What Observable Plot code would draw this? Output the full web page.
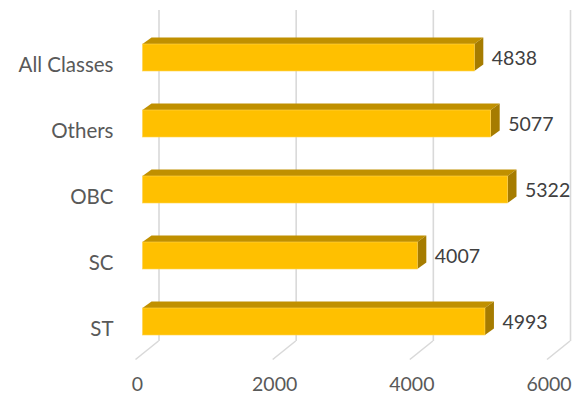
<!DOCTYPE html>
<html>
<head>
<meta charset="utf-8">
<script src="https://cdn.jsdelivr.net/npm/d3@7"></script>
<script src="https://cdn.jsdelivr.net/npm/@observablehq/plot@0.6"></script>
<style>
  html, body { margin: 0; padding: 0; background: #fff; }
  #chart svg { display: block; }
</style>
</head>
<body>
<div id="chart"></div>
<script>
const categories = ["All Classes", "Others", "OBC", "SC", "ST"];
const values = [4838, 5077, 5322, 4007, 4993];
const xTicks = [0, 2000, 4000, 6000];

const data = categories.map((c, i) => ({category: c, value: values[i]}));

// 3D depth offsets (pixels)
const FRONT_DX = -16;          // front plane relative to back wall
const BAR_DEPTH_X = 9, BAR_DEPTH_Y = -6.5;
const FLOOR_DX = -23, FLOOR_DY = 18.5;

const FONT = "Lato, 'Open Sans', sans-serif";

function floorLines(index, scales, values, dims) {
  const g = d3.create("svg:g");
  const yb = dims.height - dims.marginBottom;
  for (const t of xTicks) {
    const x = scales.x(t);
    g.append("line")
      .attr("x1", x).attr("y1", yb)
      .attr("x2", x + FLOOR_DX).attr("y2", yb + FLOOR_DY)
      .attr("stroke", "#d9d9d9").attr("stroke-width", 1.6);
  }
  return g.node();
}

function barFaces(index, scales, values, dims) {
  const g = d3.create("svg:g");
  const bw = scales.y.bandwidth();
  for (const d of data) {
    const x1 = scales.x(0) + FRONT_DX;
    const x2 = scales.x(d.value) + FRONT_DX;
    const yt = scales.y(d.category);
    const yb = yt + bw;
    // top face
    g.append("path")
      .attr("d", `M${x1},${yt}L${x2},${yt}L${x2 + BAR_DEPTH_X},${yt + BAR_DEPTH_Y}L${x1 + BAR_DEPTH_X},${yt + BAR_DEPTH_Y}Z`)
      .attr("fill", "#c09000");
    // side face
    g.append("path")
      .attr("d", `M${x2},${yt}L${x2 + BAR_DEPTH_X},${yt + BAR_DEPTH_Y}L${x2 + BAR_DEPTH_X},${yb + BAR_DEPTH_Y}L${x2},${yb}Z`)
      .attr("fill", "#a67c00");
  }
  return g.node();
}

const chart = Plot.plot({
  width: 577,
  height: 401,
  marginLeft: 158.5,
  marginRight: 7,
  marginTop: 10,
  marginBottom: 60,
  style: {fontFamily: FONT, background: "#fff"},
  x: {domain: [0, 6000], axis: null},
  y: {domain: categories, range: [23.6, 354.85], paddingInner: 0.597, paddingOuter: 0.2985, axis: null},
  marks: [
    Plot.ruleX(xTicks, {stroke: "#d9d9d9", strokeWidth: 1.6, strokeOpacity: 1}),
    floorLines,
    barFaces,
    Plot.barX(data, {x: "value", y: "category", fill: "#ffc000", dx: FRONT_DX, stroke: "#ffd34d", strokeWidth: 0.6}),
    Plot.text(data, {x: "value", y: "category", text: d => String(d.value), textAnchor: "start", dx: 1, dy: 1, fontSize: 19.5, fill: "#404040"}),
    Plot.text(categories, {y: d => d, text: d => d, frameAnchor: "left", textAnchor: "end", dx: -45.5, dy: 7, fontSize: 20.5, fill: "#595959"}),
    Plot.text(xTicks, {x: d => d, text: d => String(d), frameAnchor: "bottom", dx: -21.5, dy: 49, fontSize: 19.5, fill: "#595959"})
  ]
});

document.getElementById("chart").appendChild(chart);
</script>
</body>
</html>
